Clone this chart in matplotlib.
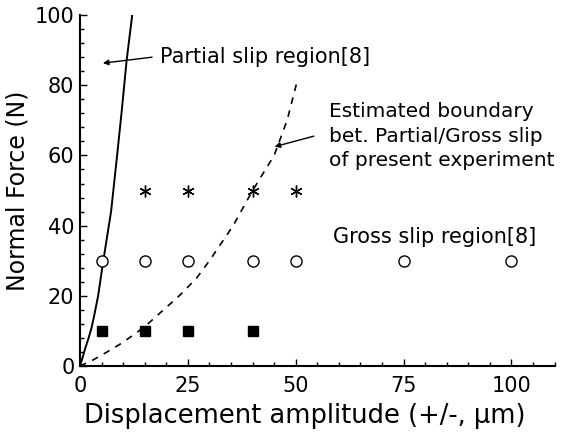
import matplotlib.pyplot as plt
from matplotlib.ticker import MultipleLocator

plt.rcParams['font.family'] = ['DejaVu Sans']

# test conditions: displacement amplitude (um) vs normal force (N)
sq_x = [5, 15, 25, 40]
sq_y = [10, 10, 10, 10]
circ_x = [5, 15, 25, 40, 50, 75, 100]
circ_y = [30, 30, 30, 30, 30, 30, 30]
star_x = [15, 25, 40, 50]
star_y = [50, 50, 50, 50]

# partial slip boundary from ref. [8]
ref_x = [0, 0.5, 1.2, 2.0, 2.7, 3.4, 4.2, 4.8, 5.4, 6.3, 7.2, 7.9, 8.6, 9.7, 10.8, 12.1]
ref_y = [0, 2, 5, 8, 11, 15, 20, 25, 30, 37, 44, 52, 60, 73, 87, 100]

# estimated boundary from present experiment
est_x = [0, 3, 6, 9, 12, 15, 18, 23, 27, 30, 35.5, 40, 45, 48, 50.3]
est_y = [0, 1.7, 3.8, 6, 8.5, 11.2, 14.5, 20, 25, 30, 40, 50, 60, 70, 81]

fig = plt.figure(figsize=(5.61, 4.37), dpi=100)
ax = fig.add_axes([0.1426, 0.1625, 0.846, 0.803])

ax.plot(ref_x, ref_y, color='black', lw=1.4)
ax.plot(est_x, est_y, color='black', lw=1.2, linestyle=(0, (4, 4)))

ax.plot(sq_x, sq_y, 's', color='black', ms=7, ls='none')
ax.plot(circ_x, circ_y, 'o', mfc='white', mec='black', mew=1.0, ms=8, ls='none')
ax.plot(star_x, star_y, marker=(6, 2, 0), color='black', mew=1.0, ms=8.5, ls='none')

arrow = dict(arrowstyle='-|>', color='black', lw=1.0, mutation_scale=8, shrinkA=0, shrinkB=0)
ax.annotate('', xy=(5.3, 86.3), xytext=(16.7, 88), arrowprops=arrow)
ax.annotate('', xy=(45.1, 62.5), xytext=(54.2, 65.5), arrowprops=arrow)

ax.text(18.5, 88, 'Partial slip region[8]', fontsize=15, va='center', ha='left')
ax.text(57.6, 65.5, 'Estimated boundary\nbet. Partial/Gross slip\nof present experiment',
        fontsize=14.5, va='center', ha='left', linespacing=1.35)
ax.text(58.6, 36.8, 'Gross slip region[8]', fontsize=15, va='center', ha='left')

ax.set_xlim(0, 110)
ax.set_ylim(0, 100)
ax.xaxis.set_major_locator(MultipleLocator(25))
ax.xaxis.set_minor_locator(MultipleLocator(5))
ax.yaxis.set_major_locator(MultipleLocator(20))
ax.yaxis.set_minor_locator(MultipleLocator(4))
ax.tick_params(which='both', direction='in', width=1.0, labelsize=15, pad=4)
ax.tick_params(axis='x', which='both', pad=7.5)
ax.tick_params(which='major', length=5)
ax.tick_params(which='minor', length=3)

for side in ['top', 'right']:
    ax.spines[side].set_visible(False)
for side in ['left', 'bottom']:
    ax.spines[side].set_linewidth(1.5)

ax.set_xlabel('Displacement amplitude (+/-, \u03bcm)', fontsize=18.5)
ax.xaxis.set_label_coords(0.474, -0.105)
ax.set_ylabel('Normal Force (N)', fontsize=17, labelpad=4)

fig.savefig('out.png', dpi=100)
